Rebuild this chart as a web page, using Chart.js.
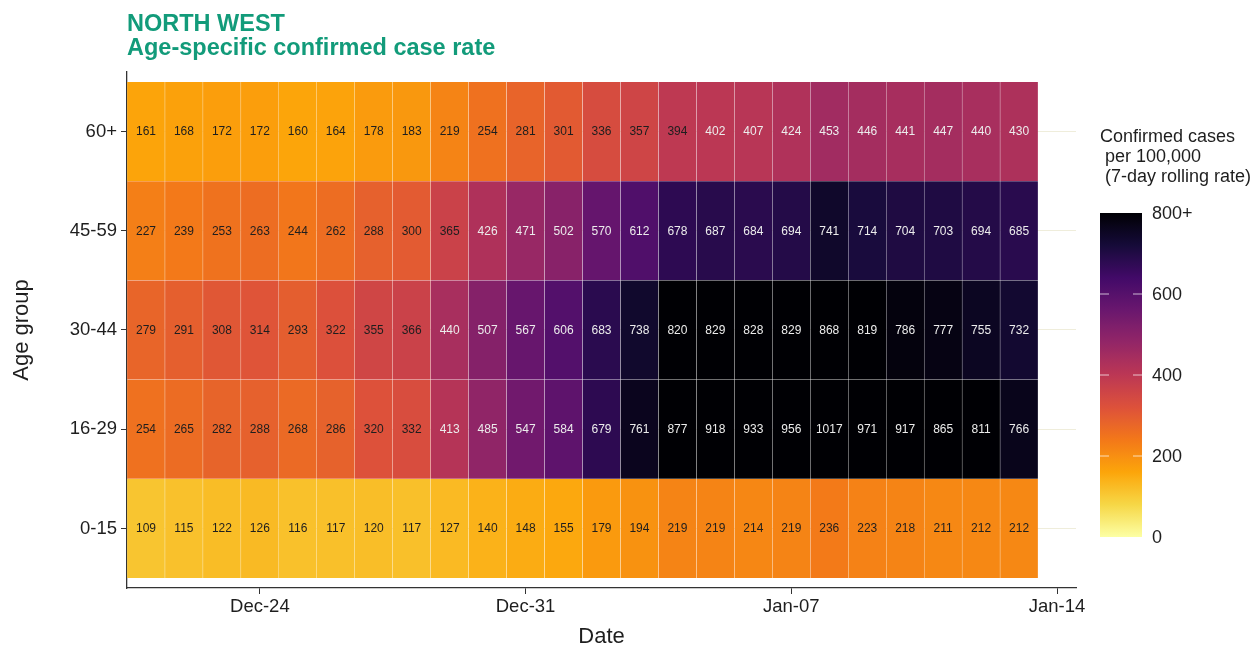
<!DOCTYPE html>
<html>
<head>
<meta charset="utf-8">
<script src="https://cdn.jsdelivr.net/npm/chart.js@4.4.1/dist/chart.umd.min.js"></script>
<style>
html,body{margin:0;padding:0;background:#fff;}
#wrap{width:1252px;height:648px;position:relative;}
</style>
</head>
<body>
<div id="wrap"><canvas id="c" width="1252" height="648"></canvas></div>
<script>
// ---------- DATA ----------
const dates = ['Dec-21','Dec-22','Dec-23','Dec-24','Dec-25','Dec-26','Dec-27','Dec-28','Dec-29','Dec-30','Dec-31',
  'Jan-01','Jan-02','Jan-03','Jan-04','Jan-05','Jan-06','Jan-07','Jan-08','Jan-09','Jan-10','Jan-11','Jan-12','Jan-13'];
const ageGroups = ['0-15','16-29','30-44','45-59','60+'];
const rates_0_15  = [109,115,122,126,116,117,120,117,127,140,148,155,179,194,219,219,214,219,236,223,218,211,212,212];
const rates_16_29 = [254,265,282,288,268,286,320,332,413,485,547,584,679,761,877,918,933,956,1017,971,917,865,811,766];
const rates_30_44 = [279,291,308,314,293,322,355,366,440,507,567,606,683,738,820,829,828,829,868,819,786,777,755,732];
const rates_45_59 = [227,239,253,263,244,262,288,300,365,426,471,502,570,612,678,687,684,694,741,714,704,703,694,685];
const rates_60plus= [161,168,172,172,160,164,178,183,219,254,281,301,336,357,394,402,407,424,453,446,441,447,440,430];
const xTickDays   = [3,10,17,24];
const xTickLabels = ['Dec-24','Dec-31','Jan-07','Jan-14'];
const legendTicks = [0,200,400,600,800];
const legendTickLabels = ['0','200','400','600','800+'];
const titleLines = ['NORTH WEST','Age-specific confirmed case rate'];
const legendTitleLines = ['Confirmed cases',' per 100,000',' (7-day rolling rate)'];

// ---------- COLOUR SCALE (inferno, reversed, capped at 800) ----------
const INFERNO = ['#000004','#160b39','#420a68','#6a176e','#932667','#bc3754','#dd513a','#f37819','#fca50a','#f6d746','#fcffa4'];
const RATE_MAX = 800;
function hex2rgb(h){return [parseInt(h.substr(1,2),16),parseInt(h.substr(3,2),16),parseInt(h.substr(5,2),16)];}
const INF_RGB = INFERNO.map(hex2rgb);
function rateColor(v){
  const t = 1 - Math.min(Math.max(v,0),RATE_MAX)/RATE_MAX;
  const p = t*(INF_RGB.length-1);
  const i = Math.min(Math.floor(p), INF_RGB.length-2);
  const f = p - i;
  const a = INF_RGB[i], b = INF_RGB[i+1];
  const c = a.map((x,k)=>Math.round(x+(b[k]-x)*f));
  return 'rgb('+c[0]+','+c[1]+','+c[2]+')';
}

const FONT = "'Liberation Sans', Arial, Helvetica, sans-serif";
const TEXT = '#1e1e1e';
const rows = [rates_0_15, rates_16_29, rates_30_44, rates_45_59, rates_60plus];

const datasets = rows.map((vals, r) => ({
  label: ageGroups[r],
  data: vals.map((v, i) => ({x: i, y: [r + 0.5, r + 1.5], v: v})),
  backgroundColor: ctx => rateColor(ctx.raw ? ctx.raw.v : 0),
  borderColor: 'rgba(255,255,255,0.13)',
  borderWidth: 0.5,
  borderSkipped: false,
  barPercentage: 1,
  categoryPercentage: 1,
  grouped: false
}));

const cellLabels = {
  id: 'cellLabels',
  afterDatasetsDraw(chart){
    const ctx = chart.ctx;
    ctx.save();
    ctx.font = '12px ' + FONT;
    ctx.textAlign = 'center';
    ctx.textBaseline = 'middle';
    chart.data.datasets.forEach((ds, di) => {
      const meta = chart.getDatasetMeta(di);
      meta.data.forEach((el, i) => {
        const v = ds.data[i].v;
        const p = el.getProps(['x','y','base'], true);
        ctx.fillStyle = v >= 400 ? '#ececec' : TEXT;
        ctx.fillText(String(v), p.x, (p.y + p.base)/2 + 0.5);
      });
    });
    ctx.restore();
  }
};

const decorations = {
  id: 'decorations',
  afterDraw(chart){
    const ctx = chart.ctx;
    ctx.save();
    // Title
    ctx.fillStyle = '#129b7a';
    ctx.font = 'bold 23.5px ' + FONT;
    ctx.textAlign = 'left';
    ctx.textBaseline = 'alphabetic';
    ctx.fillText(titleLines[0], chart.chartArea.left, 31);
    ctx.fillText(titleLines[1], chart.chartArea.left, 55);

    // Legend title
    ctx.fillStyle = TEXT;
    ctx.font = '18px ' + FONT;
    ctx.textBaseline = 'middle';
    legendTitleLines.forEach((t, i) => ctx.fillText(t, 1100, 137 + i*20));

    // Colour bar
    const bx = 1100, bw = 42, yTop = 213, yBot = 537;
    const g = ctx.createLinearGradient(0, yBot, 0, yTop);
    for (let k = 0; k <= 40; k++) {
      g.addColorStop(k/40, rateColor(k/40*RATE_MAX));
    }
    ctx.fillStyle = g;
    ctx.fillRect(bx, yTop, bw, yBot - yTop);
    const yFor = v => yBot - v/RATE_MAX*(yBot - yTop);
    legendTicks.forEach((v, i) => {
      const y = yFor(v);
      if (v > 0 && v < RATE_MAX) {
        ctx.strokeStyle = 'rgba(255,255,255,0.7)';
        ctx.lineWidth = 1;
        ctx.beginPath();
        ctx.moveTo(bx, y); ctx.lineTo(bx + 9, y);
        ctx.moveTo(bx + bw - 9, y); ctx.lineTo(bx + bw, y);
        ctx.stroke();
      }
      ctx.fillStyle = TEXT;
      ctx.font = '18px ' + FONT;
      ctx.textAlign = 'left';
      ctx.fillText(legendTickLabels[i], 1152, y + 1);
    });
    ctx.restore();
  }
};

new Chart(document.getElementById('c'), {
  type: 'bar',
  data: { datasets: datasets },
  plugins: [cellLabels, decorations],
  options: {
    responsive: false,
    animation: false,
    devicePixelRatio: 1,
    layout: { padding: { left: 0, right: 176, top: 72, bottom: 0 } },
    plugins: { legend: { display: false }, tooltip: { enabled: false }, title: { display: false } },
    scales: {
      x: {
        type: 'linear',
        offset: false,
        min: -0.5,
        max: 24.5,
        afterBuildTicks: s => { s.ticks = xTickDays.map(v => ({ value: v })); },
        afterFit: s => { s.height = 60; },
        ticks: {
          autoSkip: false, maxRotation: 0, padding: 2, color: TEXT,
          font: { family: FONT, size: 18.5 },
          callback: v => xTickLabels[xTickDays.indexOf(v)]
        },
        grid: { offset: false, drawOnChartArea: false, tickLength: 6, color: '#333', tickColor: '#333' },
        border: { display: true, color: '#333', width: 1.3 },
        title: { display: true, text: 'Date', color: TEXT, font: { family: FONT, size: 22, lineHeight: 1 }, padding: { top: 0, bottom: 0 } }
      },
      y: {
        type: 'linear',
        min: 0.4,
        max: 5.6,
        afterBuildTicks: s => { s.ticks = ageGroups.map((g, i) => ({ value: i + 1 })); },
        afterFit: s => { s.width = 127; },
        ticks: {
          autoSkip: false, padding: 4, color: TEXT,
          font: { family: FONT, size: 18.5 },
          callback: v => ageGroups[v - 1]
        },
        grid: { color: '#efeddb', lineWidth: 1, tickLength: 6, tickColor: '#333' },
        border: { display: true, color: '#333', width: 1.3 },
        title: { display: true, text: 'Age group', color: TEXT, font: { family: FONT, size: 22, lineHeight: 1 }, padding: { top: 11, bottom: 0 } }
      }
    }
  }
});
</script>
</body>
</html>
